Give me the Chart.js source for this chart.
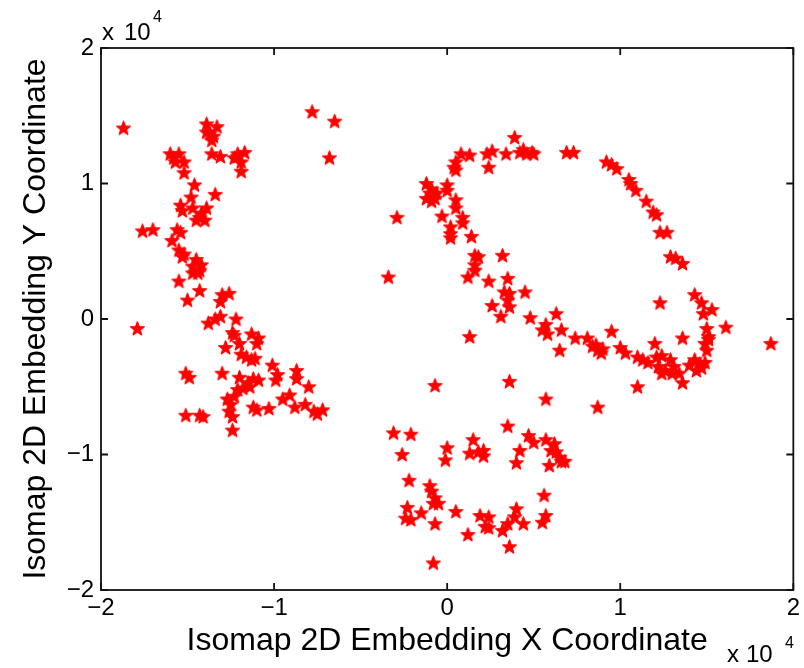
<!DOCTYPE html>
<html>
<head>
<meta charset="utf-8">
<script src="https://cdn.jsdelivr.net/npm/chart.js@4.4.1/dist/chart.umd.min.js"></script>
<style>
  html, body { margin: 0; padding: 0; background: #fff; }
</style>
</head>
<body>
<canvas id="isomap" width="804" height="668"></canvas>
<script>
// embedding coordinates, in units of 1e4 (as on the axes)
const leftCluster = [
  [-1.87,1.41],[-0.78,1.53],[-0.65,1.46],[-0.68,1.19],[-1.39,1.44],[-1.33,1.42],[-1.37,1.37],[-1.35,1.35],
  [-1.36,1.32],[-1.39,1.38],[-1.36,1.22],[-1.31,1.20],[-1.21,1.22],[-1.17,1.23],[-1.23,1.19],[-1.19,1.16],
  [-1.21,1.20],[-1.19,1.09],[-1.60,1.22],[-1.55,1.22],[-1.57,1.16],[-1.52,1.16],[-1.58,1.19],[-1.52,1.08],
  [-1.46,0.99],[-1.34,0.92],[-1.48,0.90],[-1.54,0.84],[-1.53,0.80],[-1.47,0.82],[-1.39,0.82],[-1.43,0.75],
  [-1.40,0.73],[-1.45,0.73],[-1.42,0.78],[-1.76,0.65],[-1.70,0.66],[-1.56,0.66],[-1.59,0.58],[-1.54,0.64],
  [-1.55,0.51],[-1.53,0.46],[-1.52,0.48],[-1.45,0.44],[-1.42,0.40],[-1.47,0.39],[-1.44,0.34],[-1.47,0.34],
  [-1.43,0.36],[-1.55,0.28],[-1.43,0.21],[-1.30,0.18],[-1.26,0.19],[-1.50,0.14],[-1.31,0.13],[-1.79,-0.07],
  [-1.38,-0.03],[-1.34,0.00],[-1.31,0.02],[-1.22,0.00],[-1.24,-0.10],[-1.23,-0.12],[-1.13,-0.11],[-1.09,-0.14],
  [-1.10,-0.18],[-1.20,-0.18],[-1.28,-0.21],[-1.19,-0.26],[-1.16,-0.28],[-1.11,-0.29],[-1.13,-0.30],[-1.01,-0.34],
  [-1.51,-0.40],[-1.49,-0.43],[-1.30,-0.40],[-1.20,-0.43],[-1.12,-0.44],[-1.09,-0.45],[-1.15,-0.47],[-1.18,-0.51],
  [-1.21,-0.52],[-1.14,-0.50],[-0.98,-0.41],[-0.99,-0.45],[-0.87,-0.38],[-0.87,-0.44],[-0.80,-0.50],[-0.91,-0.56],
  [-0.95,-0.59],[-1.27,-0.59],[-1.25,-0.63],[-1.26,-0.68],[-1.24,-0.72],[-1.23,-0.57],[-1.12,-0.65],[-1.10,-0.67],
  [-1.03,-0.66],[-0.88,-0.65],[-0.82,-0.63],[-0.77,-0.68],[-0.72,-0.67],[-0.75,-0.70],[-1.51,-0.71],[-1.43,-0.71],
  [-1.41,-0.72],[-1.24,-0.82]
];

const arcCluster = [
  [0.39,1.34],[0.44,1.25],[0.42,1.23],[0.49,1.23],[0.50,1.22],[0.46,1.22],[0.34,1.22],[0.23,1.22],
  [0.26,1.24],[0.24,1.12],[0.08,1.22],[0.13,1.21],[0.05,1.16],[0.05,1.10],[0.04,1.12],[0.69,1.23],
  [0.73,1.23],[-0.12,1.00],[-0.09,0.96],[-0.10,0.93],[-0.12,0.89],[-0.07,0.89],[-0.09,0.87],[-0.06,0.93],
  [0.00,0.99],[0.00,0.95],[0.05,0.88],[0.05,0.82],[-0.03,0.76],[-0.29,0.75],[0.09,0.75],[0.09,0.71],
  [0.02,0.68],[0.02,0.63],[0.02,0.60],[0.14,0.61],[-0.34,0.31],[0.32,0.47],[0.16,0.47],[0.18,0.46],
  [0.16,0.40],[0.16,0.36],[0.12,0.31],[0.24,0.28],[0.35,0.30],[0.33,0.20],[0.36,0.19],[0.35,0.14],
  [0.36,0.09],[0.45,0.20],[0.26,0.10],[0.31,0.02],[0.48,0.01],[0.63,0.04],[0.57,-0.04],[0.55,-0.08],
  [0.58,-0.11],[0.66,-0.08],[0.13,-0.13],[0.74,-0.14],[0.81,-0.14]
];

const loopCluster = [
  [0.92,1.16],[0.95,1.14],[0.98,1.11],[1.05,1.03],[1.06,1.00],[1.09,0.95],[1.15,0.87],[1.19,0.79],
  [1.21,0.77],[1.23,0.64],[1.27,0.64],[1.29,0.46],[1.32,0.45],[1.36,0.41],[1.43,0.18],[1.47,0.12],
  [1.48,0.04],[1.53,0.07],[1.23,0.12],[1.61,-0.06],[1.87,-0.18],[1.50,-0.07],[1.51,-0.13],[1.49,-0.18],
  [1.50,-0.23],[1.51,-0.15],[1.43,-0.30],[1.46,-0.33],[1.49,-0.32],[1.44,-0.38],[1.47,-0.36],[1.40,-0.34],
  [1.36,-0.14],[1.20,-0.18],[0.95,-0.09],[0.65,-0.23],[0.84,-0.20],[0.87,-0.23],[0.90,-0.22],[0.89,-0.25],
  [0.86,-0.19],[1.00,-0.21],[1.03,-0.25],[1.10,-0.28],[1.13,-0.30],[1.16,-0.32],[1.21,-0.28],[1.24,-0.27],
  [1.22,-0.35],[1.26,-0.38],[1.29,-0.30],[1.31,-0.35],[1.34,-0.40],[1.36,-0.47],[1.24,-0.40],[1.30,-0.40],
  [1.10,-0.50],[0.87,-0.65]
];

const lowerCluster = [
  [-0.07,-0.49],[0.36,-0.46],[0.57,-0.59],[-0.31,-0.84],[-0.21,-0.85],[0.35,-0.79],[-0.26,-1.00],[0.00,-0.95],
  [-0.01,-1.04],[0.15,-0.89],[0.13,-0.99],[0.18,-0.98],[0.21,-0.97],[0.21,-1.01],[0.42,-0.97],[0.40,-1.06],
  [0.47,-0.86],[0.50,-0.91],[0.57,-0.89],[0.62,-0.92],[0.60,-0.97],[0.63,-0.98],[0.65,-1.02],[0.59,-1.08],
  [0.66,-1.05],[0.68,-1.05],[-0.22,-1.19],[-0.10,-1.23],[-0.09,-1.27],[-0.07,-1.32],[-0.05,-1.36],[-0.08,-1.36],
  [-0.23,-1.39],[-0.24,-1.47],[-0.21,-1.48],[-0.15,-1.43],[-0.07,-1.51],[0.05,-1.42],[0.12,-1.59],[0.19,-1.45],
  [0.24,-1.46],[0.22,-1.53],[0.24,-1.54],[0.32,-1.56],[0.35,-1.51],[0.40,-1.40],[0.39,-1.46],[0.44,-1.51],
  [0.36,-1.68],[0.56,-1.30],[0.57,-1.45],[0.55,-1.50],[-0.08,-1.80]
];

const axisTicks = [-2, -1, 0, 1, 2];
const xTitle = 'Isomap 2D Embedding X Coordinate';
const yTitle = 'Isomap 2D Embedding Y Coordinate';

const FONT = "'Liberation Sans', Arial, Helvetica, sans-serif";

// filled red pentagram, like matlab's 'p' marker
function makeStar(size) {
  const c = document.createElement('canvas');
  c.width = size; c.height = size;
  const g = c.getContext('2d');
  const R = size / 2 - 1.2, r = R * 0.42, cx = size / 2, cy = size / 2 + 0.5;
  g.beginPath();
  for (let i = 0; i < 10; i++) {
    const rad = i % 2 ? r : R;
    const a = -Math.PI / 2 + i * Math.PI / 5;
    g.lineTo(cx + rad * Math.cos(a), cy + rad * Math.sin(a));
  }
  g.closePath();
  g.fillStyle = '#ff0000';
  g.strokeStyle = '#ff0000';
  g.lineWidth = 1.2;
  g.lineJoin = 'round';
  g.fill();
  g.stroke();
  return c;
}
const star = makeStar(17);

const toPts = arr => arr.map(([x, y]) => ({ x, y }));
const fmt = v => v < 0 ? '\u2212' + Math.abs(v) : String(v);

// box + inward ticks + "x 10^4" multipliers
const matlabAxes = {
  id: 'matlabAxes',
  afterDraw(chart) {
    const { ctx, chartArea: a, scales: { x, y } } = chart;
    ctx.save();
    ctx.strokeStyle = '#111';
    ctx.lineWidth = 1.8;
    ctx.strokeRect(a.left, a.top, a.right - a.left, a.bottom - a.top);
    ctx.beginPath();
    axisTicks.forEach(v => {
      const px = x.getPixelForValue(v);
      ctx.moveTo(px, a.bottom); ctx.lineTo(px, a.bottom - 7);
      ctx.moveTo(px, a.top); ctx.lineTo(px, a.top + 7);
      const py = y.getPixelForValue(v);
      ctx.moveTo(a.left, py); ctx.lineTo(a.left + 7, py);
      ctx.moveTo(a.right, py); ctx.lineTo(a.right - 7, py);
    });
    ctx.stroke();

    ctx.fillStyle = '#000';
    ctx.textBaseline = 'alphabetic';
    ctx.font = '24px ' + FONT;
    ctx.fillText('x', a.left + 1, a.top - 8);
    ctx.fillText('10', a.left + 23, a.top - 8);
    ctx.fillText('x', 727, 662);
    ctx.fillText('10', 746, 662);
    ctx.font = '16px ' + FONT;
    ctx.fillText('4', a.left + 52, a.top - 26);
    ctx.fillText('4', 785, 648);
    ctx.restore();
  }
};

new Chart(document.getElementById('isomap'), {
  type: 'scatter',
  data: {
    datasets: [leftCluster, arcCluster, loopCluster, lowerCluster].map(arr => ({
      data: toPts(arr),
      pointStyle: star,
      pointRadius: 8,
      pointHoverRadius: 8,
    }))
  },
  options: {
    responsive: false,
    animation: false,
    layout: { padding: { top: 48, right: 10, left: 0, bottom: 0 } },
    plugins: { legend: { display: false }, tooltip: { enabled: false } },
    scales: {
      x: {
        type: 'linear', min: -2, max: 2,
        afterFit: s => { s.height = 78; },
        afterBuildTicks: s => { s.ticks = axisTicks.map(v => ({ value: v })); },
        grid: { display: false, drawTicks: false },
        border: { display: false },
        ticks: { color: '#000', padding: 4, font: { family: FONT, size: 24 }, callback: fmt, maxRotation: 0, autoSkip: false },
        title: { display: true, text: xTitle, color: '#000', font: { family: FONT, size: 32, lineHeight: 1 }, padding: { top: 0, bottom: 11 } }
      },
      y: {
        type: 'linear', min: -2, max: 2,
        afterFit: s => { s.width = 101; },
        afterBuildTicks: s => { s.ticks = axisTicks.map(v => ({ value: v })); },
        grid: { display: false, drawTicks: false },
        border: { display: false },
        ticks: { color: '#000', padding: 7, font: { family: FONT, size: 24 }, callback: fmt, autoSkip: false },
        title: { display: true, text: yTitle, color: '#000', font: { family: FONT, size: 32, lineHeight: 1 }, padding: { top: 20, bottom: 0 } }
      }
    }
  },
  plugins: [matlabAxes]
});
</script>
</body>
</html>
